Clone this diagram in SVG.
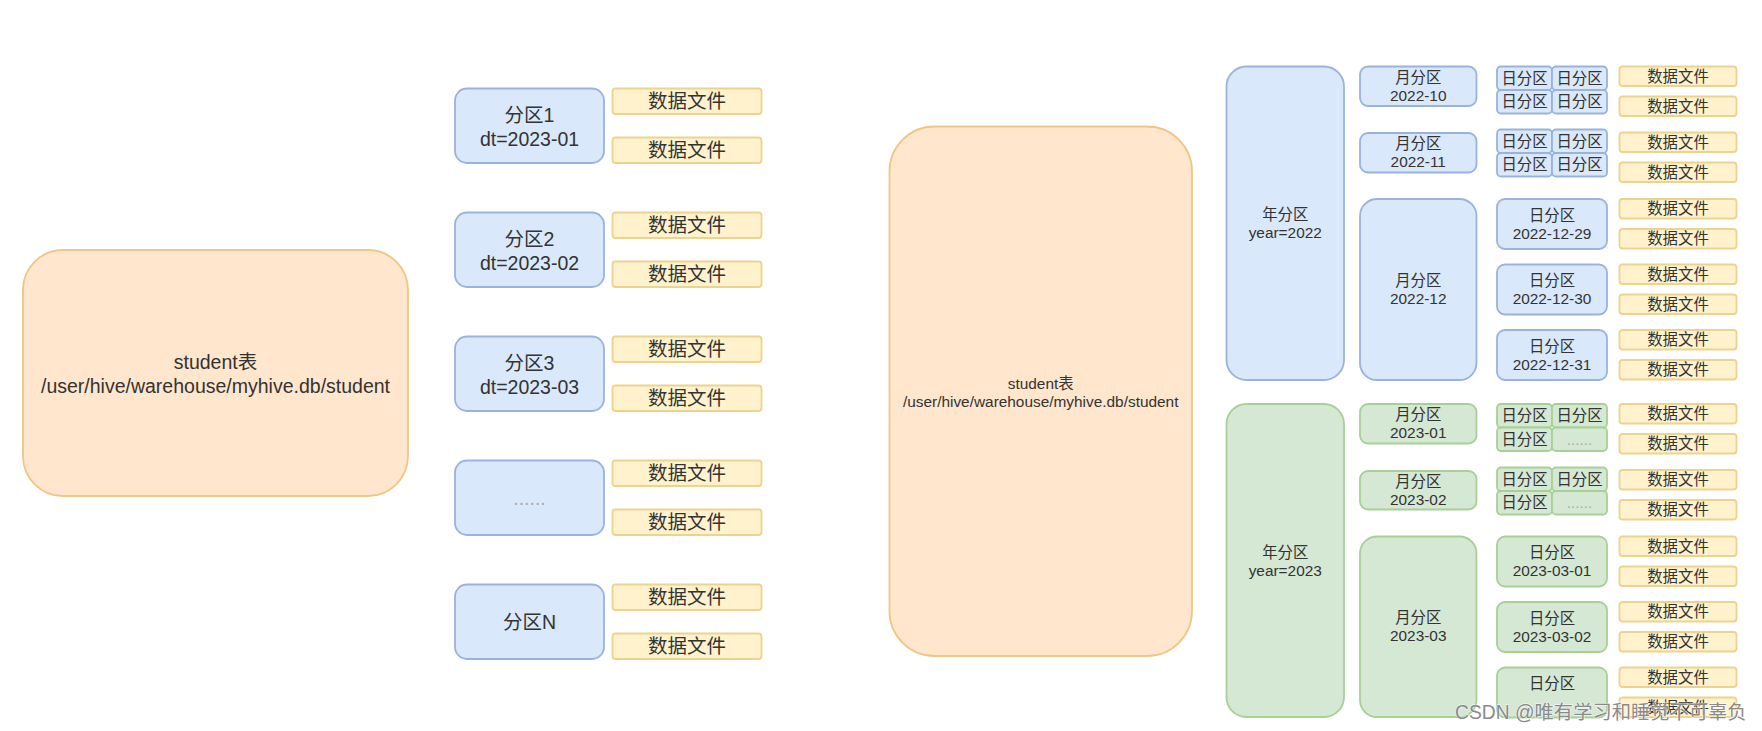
<svg xmlns="http://www.w3.org/2000/svg" width="1762" height="731" viewBox="0 0 1762 731">
<style>
.t{font-family:"Liberation Sans","Noto Sans CJK SC",sans-serif;fill:#333;text-anchor:middle;dominant-baseline:central}
.l{font-size:19.5px}
.s{font-size:15.4px}
.dots{fill:#aaa}
.blue{fill:#dae8fc;stroke:#9ab3dc;stroke-width:1.8}
.org{fill:#ffe6cc;stroke:#efc685;stroke-width:1.8}
.yel{fill:#fff2cc;stroke:#ecd48e;stroke-width:1.8}
.grn{fill:#d5e8d4;stroke:#a8cf98;stroke-width:1.8}
.wm{font-family:"Liberation Sans","Noto Sans CJK SC",sans-serif;font-size:19.3px;fill:#8a8a8a;dominant-baseline:central;stroke:#fff;stroke-width:1.5;stroke-opacity:0.6;paint-order:stroke}
</style>
<rect width="1762" height="731" fill="#fff"/>
<g id="connectors"/>

<!-- LEFT DIAGRAM -->
<g id="left-table">
<rect class="org" x="23" y="250" width="385" height="246" rx="40"/>
<text class="t l" x="215.5" y="362">student表</text>
<text class="t l" x="215.5" y="386">/user/hive/warehouse/myhive.db/student</text>
</g>
<g id="left-p1">
<rect class="blue" x="455" y="88.5" width="149" height="74.5" rx="12"/>
<text class="t l" x="529.5" y="115">分区1</text>
<text class="t l" x="529.5" y="138.5">dt=2023-01</text>
</g>
<g id="left-p2">
<rect class="blue" x="455" y="212.5" width="149" height="74.5" rx="12"/>
<text class="t l" x="529.5" y="239">分区2</text>
<text class="t l" x="529.5" y="262.5">dt=2023-02</text>
</g>
<g id="left-p3">
<rect class="blue" x="455" y="336.5" width="149" height="74.5" rx="12"/>
<text class="t l" x="529.5" y="363">分区3</text>
<text class="t l" x="529.5" y="386.5">dt=2023-03</text>
</g>
<g id="left-p4">
<rect class="blue" x="455" y="460.5" width="149" height="74.5" rx="12"/>
<text class="t l dots" x="529.5" y="497.5">......</text>
</g>
<g id="left-pN">
<rect class="blue" x="455" y="584.5" width="149" height="74.5" rx="12"/>
<text class="t l" x="529.5" y="622">分区N</text>
</g>
<g id="left-files">
<rect class="yel" x="612.5" y="88.5" width="149" height="25.5" rx="3"/><text class="t l" x="687" y="101.25">数据文件</text>
<rect class="yel" x="612.5" y="137.5" width="149" height="25.5" rx="3"/><text class="t l" x="687" y="150.25">数据文件</text>
<rect class="yel" x="612.5" y="212.5" width="149" height="25.5" rx="3"/><text class="t l" x="687" y="225.25">数据文件</text>
<rect class="yel" x="612.5" y="261.5" width="149" height="25.5" rx="3"/><text class="t l" x="687" y="274.25">数据文件</text>
<rect class="yel" x="612.5" y="336.5" width="149" height="25.5" rx="3"/><text class="t l" x="687" y="349.25">数据文件</text>
<rect class="yel" x="612.5" y="385.5" width="149" height="25.5" rx="3"/><text class="t l" x="687" y="398.25">数据文件</text>
<rect class="yel" x="612.5" y="460.5" width="149" height="25.5" rx="3"/><text class="t l" x="687" y="473.25">数据文件</text>
<rect class="yel" x="612.5" y="509.5" width="149" height="25.5" rx="3"/><text class="t l" x="687" y="522.25">数据文件</text>
<rect class="yel" x="612.5" y="584.5" width="149" height="25.5" rx="3"/><text class="t l" x="687" y="597.25">数据文件</text>
<rect class="yel" x="612.5" y="633.5" width="149" height="25.5" rx="3"/><text class="t l" x="687" y="646.25">数据文件</text>
</g>

<!-- RIGHT DIAGRAM -->
<g id="right-table">
<rect class="org" x="889.5" y="126.5" width="302.5" height="529.5" rx="45"/>
<text class="t s" x="1040.7" y="383">student表</text>
<text class="t s" x="1040.7" y="401">/user/hive/warehouse/myhive.db/student</text>
</g>
<g id="year-2022">
<rect class="blue" x="1226.5" y="66.5" width="117.5" height="313.5" rx="20"/>
<text class="t s" x="1285.25" y="214">年分区</text>
<text class="t s" x="1285.25" y="232.5">year=2022</text>
</g>
<g id="year-2023">
<rect class="grn" x="1226.5" y="404" width="117.5" height="313" rx="20"/>
<text class="t s" x="1285.25" y="552">年分区</text>
<text class="t s" x="1285.25" y="570.5">year=2023</text>
</g>

<g id="month-2022-10">
<rect class="blue" x="1360" y="66.5" width="116.5" height="39.5" rx="8"/>
<text class="t s" x="1418.25" y="77.5">月分区</text>
<text class="t s" x="1418.25" y="95.5">2022-10</text>
</g>
<g id="month-2022-11">
<rect class="blue" x="1360" y="133" width="116.5" height="39.5" rx="8"/>
<text class="t s" x="1418.25" y="143.75">月分区</text>
<text class="t s" x="1418.25" y="161.75">2022-11</text>
</g>
<g id="month-2022-12">
<rect class="blue" x="1360" y="199" width="116.5" height="181" rx="17"/>
<text class="t s" x="1418.25" y="280.5">月分区</text>
<text class="t s" x="1418.25" y="298.5">2022-12</text>
</g>
<g id="month-2023-01">
<rect class="grn" x="1360" y="404" width="116.5" height="39.5" rx="8"/>
<text class="t s" x="1418.25" y="414.75">月分区</text>
<text class="t s" x="1418.25" y="432.75">2023-01</text>
</g>
<g id="month-2023-02">
<rect class="grn" x="1360" y="471" width="116.5" height="38.5" rx="8"/>
<text class="t s" x="1418.25" y="481.25">月分区</text>
<text class="t s" x="1418.25" y="499.25">2023-02</text>
</g>
<g id="month-2023-03">
<rect class="grn" x="1360" y="536.5" width="116.5" height="180.5" rx="17"/>
<text class="t s" x="1418.25" y="617.75">月分区</text>
<text class="t s" x="1418.25" y="635.75">2023-03</text>
</g>

<g id="days-2022-10">
<rect class="blue" x="1497" y="66.5" width="55" height="23.5" rx="4"/><text class="t s" x="1524.5" y="78.25">日分区</text>
<rect class="blue" x="1552" y="66.5" width="55" height="23.5" rx="4"/><text class="t s" x="1579.5" y="78.25">日分区</text>
<rect class="blue" x="1497" y="90" width="55" height="23.5" rx="4"/><text class="t s" x="1524.5" y="101.75">日分区</text>
<rect class="blue" x="1552" y="90" width="55" height="23.5" rx="4"/><text class="t s" x="1579.5" y="101.75">日分区</text>
</g>
<g id="days-2022-11">
<rect class="blue" x="1497" y="129.5" width="55" height="23.5" rx="4"/><text class="t s" x="1524.5" y="141.25">日分区</text>
<rect class="blue" x="1552" y="129.5" width="55" height="23.5" rx="4"/><text class="t s" x="1579.5" y="141.25">日分区</text>
<rect class="blue" x="1497" y="153" width="55" height="23.5" rx="4"/><text class="t s" x="1524.5" y="164.75">日分区</text>
<rect class="blue" x="1552" y="153" width="55" height="23.5" rx="4"/><text class="t s" x="1579.5" y="164.75">日分区</text>
</g>
<g id="day-2022-12-29">
<rect class="blue" x="1497" y="199" width="110" height="50" rx="8"/>
<text class="t s" x="1552" y="215">日分区</text>
<text class="t s" x="1552" y="233">2022-12-29</text>
</g>
<g id="day-2022-12-30">
<rect class="blue" x="1497" y="264.5" width="110" height="50" rx="8"/>
<text class="t s" x="1552" y="280.5">日分区</text>
<text class="t s" x="1552" y="298.5">2022-12-30</text>
</g>
<g id="day-2022-12-31">
<rect class="blue" x="1497" y="330" width="110" height="50" rx="8"/>
<text class="t s" x="1552" y="346">日分区</text>
<text class="t s" x="1552" y="364">2022-12-31</text>
</g>
<g id="days-2023-01">
<rect class="grn" x="1497" y="404" width="55" height="23.5" rx="4"/><text class="t s" x="1524.5" y="415.75">日分区</text>
<rect class="grn" x="1552" y="404" width="55" height="23.5" rx="4"/><text class="t s" x="1579.5" y="415.75">日分区</text>
<rect class="grn" x="1497" y="427.5" width="55" height="23.5" rx="4"/><text class="t s" x="1524.5" y="439.25">日分区</text>
<rect class="grn" x="1552" y="427.5" width="55" height="23.5" rx="4"/><text class="t s dots" x="1579.5" y="439.25">......</text>
</g>
<g id="days-2023-02">
<rect class="grn" x="1497" y="467.5" width="55" height="23.5" rx="4"/><text class="t s" x="1524.5" y="479.25">日分区</text>
<rect class="grn" x="1552" y="467.5" width="55" height="23.5" rx="4"/><text class="t s" x="1579.5" y="479.25">日分区</text>
<rect class="grn" x="1497" y="491" width="55" height="23.5" rx="4"/><text class="t s" x="1524.5" y="502.75">日分区</text>
<rect class="grn" x="1552" y="491" width="55" height="23.5" rx="4"/><text class="t s dots" x="1579.5" y="502.75">......</text>
</g>
<g id="day-2023-03-01">
<rect class="grn" x="1497" y="536.5" width="110" height="50" rx="8"/>
<text class="t s" x="1552" y="552.5">日分区</text>
<text class="t s" x="1552" y="570.5">2023-03-01</text>
</g>
<g id="day-2023-03-02">
<rect class="grn" x="1497" y="602" width="110" height="50" rx="8"/>
<text class="t s" x="1552" y="618">日分区</text>
<text class="t s" x="1552" y="636">2023-03-02</text>
</g>
<g id="day-2023-03-03">
<rect class="grn" x="1497" y="667.5" width="110" height="50" rx="8"/>
<text class="t s" x="1552" y="683.5">日分区</text>
</g>

<g id="right-files">
<rect class="yel" x="1619.5" y="66.5" width="117" height="19.5" rx="3"/><text class="t s" x="1678" y="76.25">数据文件</text>
<rect class="yel" x="1619.5" y="96.5" width="117" height="19.5" rx="3"/><text class="t s" x="1678" y="106.25">数据文件</text>
<rect class="yel" x="1619.5" y="132.5" width="117" height="19.5" rx="3"/><text class="t s" x="1678" y="142.25">数据文件</text>
<rect class="yel" x="1619.5" y="162.5" width="117" height="19.5" rx="3"/><text class="t s" x="1678" y="172.25">数据文件</text>
<rect class="yel" x="1619.5" y="199" width="117" height="19.5" rx="3"/><text class="t s" x="1678" y="208.75">数据文件</text>
<rect class="yel" x="1619.5" y="229" width="117" height="19.5" rx="3"/><text class="t s" x="1678" y="238.75">数据文件</text>
<rect class="yel" x="1619.5" y="264.5" width="117" height="19.5" rx="3"/><text class="t s" x="1678" y="274.25">数据文件</text>
<rect class="yel" x="1619.5" y="294.5" width="117" height="19.5" rx="3"/><text class="t s" x="1678" y="304.25">数据文件</text>
<rect class="yel" x="1619.5" y="330" width="117" height="19.5" rx="3"/><text class="t s" x="1678" y="339.75">数据文件</text>
<rect class="yel" x="1619.5" y="360" width="117" height="19.5" rx="3"/><text class="t s" x="1678" y="369.75">数据文件</text>
<rect class="yel" x="1619.5" y="404" width="117" height="19.5" rx="3"/><text class="t s" x="1678" y="413.75">数据文件</text>
<rect class="yel" x="1619.5" y="434" width="117" height="19.5" rx="3"/><text class="t s" x="1678" y="443.75">数据文件</text>
<rect class="yel" x="1619.5" y="470" width="117" height="19.5" rx="3"/><text class="t s" x="1678" y="479.75">数据文件</text>
<rect class="yel" x="1619.5" y="500" width="117" height="19.5" rx="3"/><text class="t s" x="1678" y="509.75">数据文件</text>
<rect class="yel" x="1619.5" y="536.5" width="117" height="19.5" rx="3"/><text class="t s" x="1678" y="546.25">数据文件</text>
<rect class="yel" x="1619.5" y="566.5" width="117" height="19.5" rx="3"/><text class="t s" x="1678" y="576.25">数据文件</text>
<rect class="yel" x="1619.5" y="602" width="117" height="19.5" rx="3"/><text class="t s" x="1678" y="611.75">数据文件</text>
<rect class="yel" x="1619.5" y="632" width="117" height="19.5" rx="3"/><text class="t s" x="1678" y="641.75">数据文件</text>
<rect class="yel" x="1619.5" y="667.5" width="117" height="19.5" rx="3"/><text class="t s" x="1678" y="677.25">数据文件</text>
<rect class="yel" x="1619.5" y="697.5" width="117" height="19.5" rx="3"/><text class="t s" x="1678" y="707.25">数据文件</text>
</g>

<g id="watermark">
<text class="wm" x="1455" y="712.5">CSDN @唯有学习和睡觉不可辜负</text>
</g>
</svg>
